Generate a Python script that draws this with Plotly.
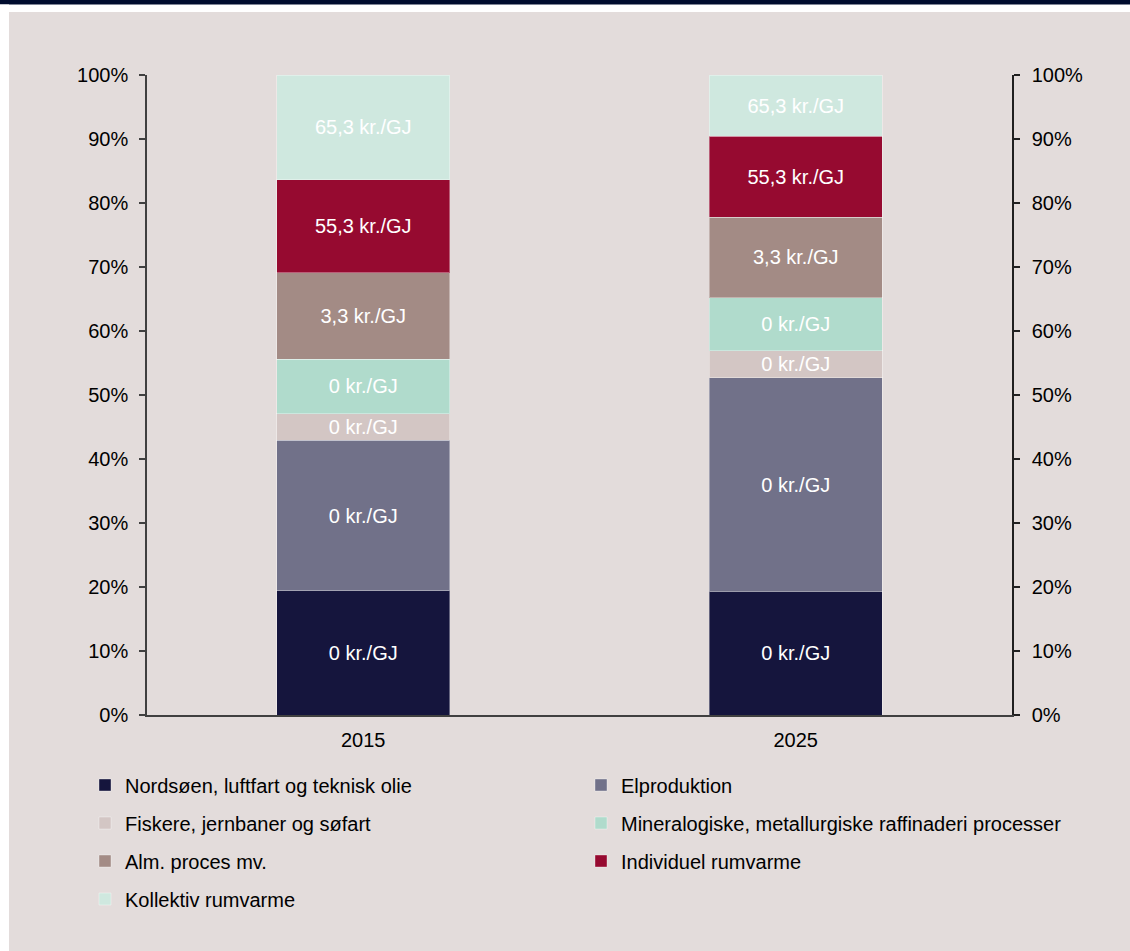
import plotly.graph_objects as go

years = ["2015", "2025"]
series_names = [
    "Nordsøen, luftfart og teknisk olie",
    "Elproduktion",
    "Fiskere, jernbaner og søfart",
    "Mineralogiske, metallurgiske raffinaderi processer",
    "Alm. proces mv.",
    "Individuel rumvarme",
    "Kollektiv rumvarme",
]
# shares in percent, [2015, 2025]
nordsoen = [19.4, 19.3]
elproduktion = [23.5, 33.4]
fiskere = [4.2, 4.2]
mineralogiske = [8.5, 8.3]
alm_proces = [13.5, 12.6]
individuel = [14.5, 12.6]
kollektiv = [16.4, 9.6]
# price labels per series
price_labels = ["0 kr./GJ", "0 kr./GJ", "0 kr./GJ", "0 kr./GJ", "3,3 kr./GJ", "55,3 kr./GJ", "65,3 kr./GJ"]
y_ticks = [0, 10, 20, 30, 40, 50, 60, 70, 80, 90, 100]
y_tick_labels = [f"{v}%" for v in y_ticks]

values = [nordsoen, elproduktion, fiskere, mineralogiske, alm_proces, individuel, kollektiv]
colors = ["#15153d", "#717189", "#d3c6c4", "#b0dbcc", "#a38b85", "#960a30", "#cfe8df"]
legend_ids = ["legend", "legend2", "legend", "legend2", "legend", "legend2", "legend"]

FONT = "Liberation Sans, Arial, sans-serif"
BG = "#e3dcdb"

fig = go.Figure()
for name, vals, col, lab, lg in zip(series_names, values, colors, price_labels, legend_ids):
    fig.add_trace(go.Bar(
        x=years, y=vals, name=name,
        marker=dict(color=col, line=dict(color="rgba(255,255,255,0.35)", width=1)),
        text=[lab] * len(vals),
        textposition="inside", insidetextanchor="middle", textangle=0,
        textfont=dict(color="white", size=20, family=FONT),
        legend=lg, legendgroup=name,
        hoverinfo="skip",
    ))

# helper trace to show the right-hand axis
fig.add_trace(go.Scatter(x=years, y=[None, None], yaxis="y2", showlegend=False,
                         hoverinfo="skip", mode="markers"))

W, H = 1130, 951
L, R, T, B = 147, 118, 75, 236
pw, ph = W - L - R, H - T - B

def px_x(px):
    return (px - L) / pw

def px_y(py):
    return (H - B - py) / ph

axis_common = dict(
    range=[0, 100], tickmode="array", tickvals=y_ticks, ticktext=y_tick_labels,
    showline=True, linewidth=1.5, ticks="outside", ticklen=6, tickwidth=1.5,
    showgrid=False, zeroline=False, tickfont=dict(size=20, color="#000", family=FONT),
)

fig.update_layout(
    width=W, height=H,
    margin=dict(l=L, r=R, t=T, b=B, pad=0),
    paper_bgcolor=BG, plot_bgcolor=BG,
    barmode="stack", bargap=0.6,
    font=dict(family=FONT, size=20, color="#000000"),
    uniformtext=dict(minsize=20, mode="show"),
    xaxis=dict(
        showline=True, linecolor="#404040", linewidth=1.5,
        ticks="", showgrid=False, tickfont=dict(size=20, color="#000", family=FONT),
        ticklabelstandoff=6,
    ),
    yaxis=dict(linecolor="#404040", tickcolor="#404040", ticklabelstandoff=7, **axis_common),
    yaxis2=dict(overlaying="y", side="right", linecolor="#202020", tickcolor="#202020",
                ticklabelstandoff=8, **axis_common),
    legend=dict(
        orientation="v", x=px_x(85), xanchor="left", y=px_y(765.5), yanchor="top",
        traceorder="grouped", tracegroupgap=9, bgcolor="rgba(0,0,0,0)",
        font=dict(size=20, family=FONT, color="#000"), itemclick=False,
    ),
    legend2=dict(
        orientation="v", x=px_x(581), xanchor="left", y=px_y(765.5), yanchor="top",
        traceorder="grouped", tracegroupgap=9, bgcolor="rgba(0,0,0,0)",
        font=dict(size=20, family=FONT, color="#000"), itemclick=False,
    ),
    shapes=[
        dict(type="rect", xref="paper", yref="paper", x0=px_x(-5), x1=px_x(W + 5),
             y0=px_y(12), y1=px_y(-5), fillcolor="white", line=dict(width=0), layer="below"),
        dict(type="rect", xref="paper", yref="paper", x0=px_x(-5), x1=px_x(W + 5),
             y0=px_y(4.5), y1=px_y(-5), fillcolor="#000c2e", line=dict(width=0), layer="below"),
        dict(type="rect", xref="paper", yref="paper", x0=px_x(-5), x1=px_x(9),
             y0=px_y(H + 5), y1=px_y(4.5), fillcolor="white", line=dict(width=0), layer="below"),
    ],
)

fig.write_html("out.html")
